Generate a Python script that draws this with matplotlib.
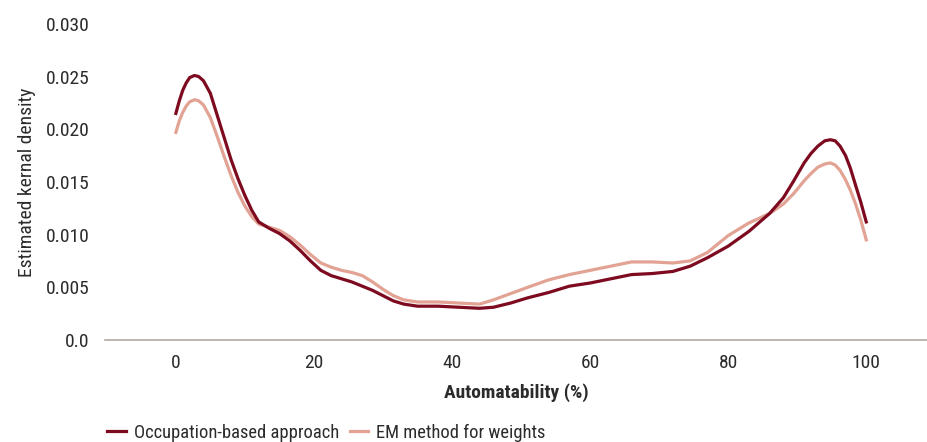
import matplotlib
matplotlib.use("Agg")
import matplotlib.pyplot as plt

plt.rcParams["font.family"] = ["Roboto Condensed", "Liberation Sans Narrow", "Roboto", "DejaVu Sans"]

# automatability (%) grid and the two kernel density curves
automat = [0, 0.5, 1, 1.5, 2, 2.7, 3.3, 4, 5, 6, 7, 8, 9, 10, 11, 12, 13.5, 15,
           16.5, 18, 19.5, 21, 22.5, 24, 25.5, 27, 28.5, 30, 31.5, 33, 35, 38,
           41, 44, 46, 48.5, 51, 54, 57, 60, 63, 66, 69, 72, 74.5, 77, 80, 83,
           86, 88, 89.5, 91, 92, 93, 94, 94.8, 95.5, 96.2, 97, 97.7, 98.4, 99.2,
           100]

occupation = [0.0215, 0.0227, 0.0237, 0.0244, 0.0249, 0.0251, 0.0250, 0.0246,
              0.0234, 0.0213, 0.0192, 0.0171, 0.0153, 0.0137, 0.0123, 0.0112,
              0.0106, 0.0101, 0.0094, 0.0085, 0.0075, 0.0066, 0.0061, 0.0058,
              0.0055, 0.0051, 0.0047, 0.0042, 0.0037, 0.0034, 0.0032, 0.0032,
              0.0031, 0.0030, 0.0031, 0.0035, 0.0040, 0.0045, 0.0051, 0.0054,
              0.0058, 0.0062, 0.0063, 0.0065, 0.0070, 0.0078, 0.0089, 0.0103,
              0.0120, 0.0135, 0.0151, 0.0168, 0.0177, 0.0184, 0.0189, 0.0190,
              0.0189, 0.0184, 0.0175, 0.0163, 0.0148, 0.0131, 0.0112]

em_method = [0.0197, 0.0208, 0.0216, 0.0222, 0.0226, 0.0228, 0.0227, 0.0223,
             0.0211, 0.0193, 0.0174, 0.0156, 0.0140, 0.0127, 0.0117, 0.0110,
             0.0107, 0.0104, 0.0098, 0.0090, 0.0081, 0.0073, 0.0069, 0.0066,
             0.0064, 0.0061, 0.0055, 0.0048, 0.0042, 0.0038, 0.0036, 0.0036,
             0.0035, 0.0034, 0.0038, 0.0044, 0.0050, 0.0057, 0.0062, 0.0066,
             0.0070, 0.0074, 0.0074, 0.0073, 0.0075, 0.0083, 0.0099, 0.0111,
             0.0120, 0.0129, 0.0139, 0.0151, 0.0158, 0.0164, 0.0167, 0.0168,
             0.0166, 0.0161, 0.0152, 0.0142, 0.0130, 0.0114, 0.0095]

x_ticks = [0, 20, 40, 60, 80, 100]
y_ticks = [0.0, 0.005, 0.010, 0.015, 0.020, 0.025, 0.030]
y_labels = ["0.0", "0.005", "0.010", "0.015", "0.020", "0.025", "0.030"]

DARK = "#7d0a1f"
LIGHT = "#e2a294"
TEXT = "#2b2b2b"

fig = plt.figure(figsize=(9.27, 4.42), dpi=100)
ax = fig.add_axes([0.113, 0.231, 0.887, 0.715])

ax.plot(automat, occupation, color=DARK, lw=2.3, label="Occupation-based approach",
        zorder=3, solid_joinstyle="round")
ax.plot(automat, em_method, color=LIGHT, lw=2.3, label="EM method for weights",
        zorder=2, solid_joinstyle="round")

ax.set_xlim(-10.3, 108.8)
ax.set_ylim(0, 0.030)
ax.set_xticks(x_ticks)
ax.set_yticks(y_ticks)
ax.set_yticklabels(y_labels)
ax.tick_params(axis="both", length=0, labelsize=14, colors=TEXT)
ax.tick_params(axis="y", pad=11)
ax.tick_params(axis="x", pad=10)

for s in ["top", "right", "left"]:
    ax.spines[s].set_visible(False)
ax.spines["bottom"].set_color("#b3aaa2")
ax.spines["bottom"].set_linewidth(1.2)

ax.set_xlabel("Automatability (%)", fontsize=14, fontweight="bold", color=TEXT, labelpad=8)
ax.set_ylabel("Estimated kernal density", fontsize=14, color=TEXT, labelpad=7)

ax.legend(loc="lower left", bbox_to_anchor=(0.098, -0.037), bbox_transform=fig.transFigure,
          ncol=2, frameon=False, fontsize=13.3, handlelength=1.0, handletextpad=0.45,
          columnspacing=0.55, labelcolor=TEXT)

fig.savefig("out.png", dpi=100)
